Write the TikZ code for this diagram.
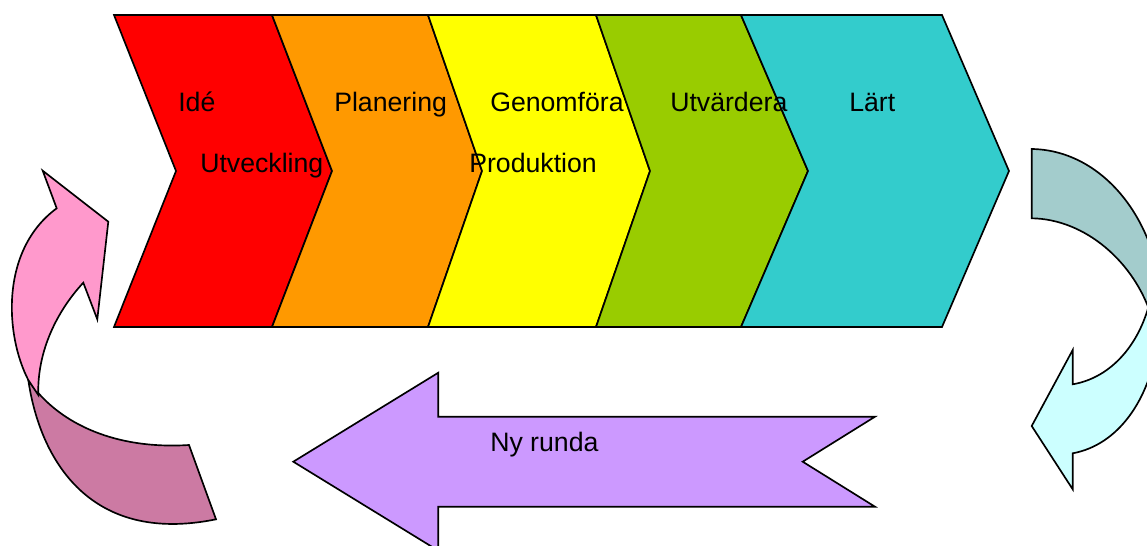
\documentclass[tikz,border=0pt]{standalone}
\usepackage{fontspec}
\setmainfont{Liberation Sans}
\definecolor{cRed}{HTML}{FF0000}
\definecolor{cOrange}{HTML}{FF9900}
\definecolor{cYellow}{HTML}{FFFF00}
\definecolor{cGreen}{HTML}{99CC00}
\definecolor{cCyan}{HTML}{33CCCC}
\definecolor{cTeal}{HTML}{A3CCCC}
\definecolor{cLcyan}{HTML}{CCFFFF}
\definecolor{cPurple}{HTML}{CC99FF}
\definecolor{cPink}{HTML}{FF99CC}
\definecolor{cDpink}{HTML}{CC7AA3}
\begin{document}
\begin{tikzpicture}[x=0.75pt,y=-0.75pt,
  blk/.style={draw=black,line width=1.25pt,line join=miter},
  lbl/.style={anchor=base west,inner sep=0pt,font=\fontsize{20}{24}\selectfont}]
\useasboundingbox (0,0) rectangle (1147,546);
\clip (0,0) rectangle (1147,546);
% chevrons
\path[blk,fill=cRed] (114,15) -- (272,15) -- (332,171) -- (272,327) -- (114,327) -- (176,171) -- cycle;
\path[blk,fill=cOrange] (272,15) -- (428,15) -- (482,171) -- (428,327) -- (272,327) -- (332,171) -- cycle;
\path[blk,fill=cYellow] (428,15) -- (596,15) -- (650,171) -- (596,327) -- (428,327) -- (482,171) -- cycle;
\path[blk,fill=cGreen] (596,15) -- (741,15) -- (808,171) -- (741,327) -- (596,327) -- (650,171) -- cycle;
\path[blk,fill=cCyan] (741,15) -- (942,15) -- (1009,171) -- (942,327) -- (741,327) -- (808,171) -- cycle;
% labels
\node[lbl] (ide) at (178,111) {Idé};
\node[lbl] (utv) at (200,172) {Utveckling};
\node[lbl] (plan) at (334,111) {Planering};
\node[lbl] (gen) at (490,111) {Genomföra};
\node[lbl] (prod) at (469,172) {Produktion};
\node[lbl] (utvd) at (670,111) {Utvärdera};
\node[lbl] (lart) at (849,111) {Lärt};
% right curved arrow
\path[blk,fill=cTeal] (1031.7,149) .. controls (1100,150) and (1155,215) .. (1162,300) -- (1152,318) .. controls (1135,262) and (1085,219) .. (1031.7,218.3) -- cycle;
\path[blk,fill=cLcyan] (1152,292) .. controls (1142,345) and (1110,378) .. (1072.7,384.3) -- (1072.7,350) -- (1031.7,426) -- (1072.7,489.3) -- (1072.7,453.3) .. controls (1118,445) and (1150,400) .. (1158,340) -- cycle;
% bottom arrow
\path[blk,fill=cPurple] (293.3,461.7) -- (438.3,372.7) -- (438.3,416.7) -- (875,416.7) -- (802.7,461.7) -- (875,506.7) -- (438.3,506.7) -- (438.3,550.7) -- cycle;
\node[lbl] (ny) at (490,451) {Ny runda};
% left curved arrow
\path[blk,fill=cDpink] (28.3,380) .. controls (55,420) and (110,450) .. (189,445) -- (216,519.3) .. controls (90,545) and (40,460) .. (28.3,380) -- cycle;
\path[blk,fill=cPink] (42.7,170.7) -- (108.3,221.7) -- (97.3,319.3) -- (83.3,282.7) .. controls (58,310) and (37,350) .. (38.3,395) -- (28.3,380) .. controls (5,335) and (0,250) .. (56.7,208.3) -- cycle;
\end{tikzpicture}
\end{document}
